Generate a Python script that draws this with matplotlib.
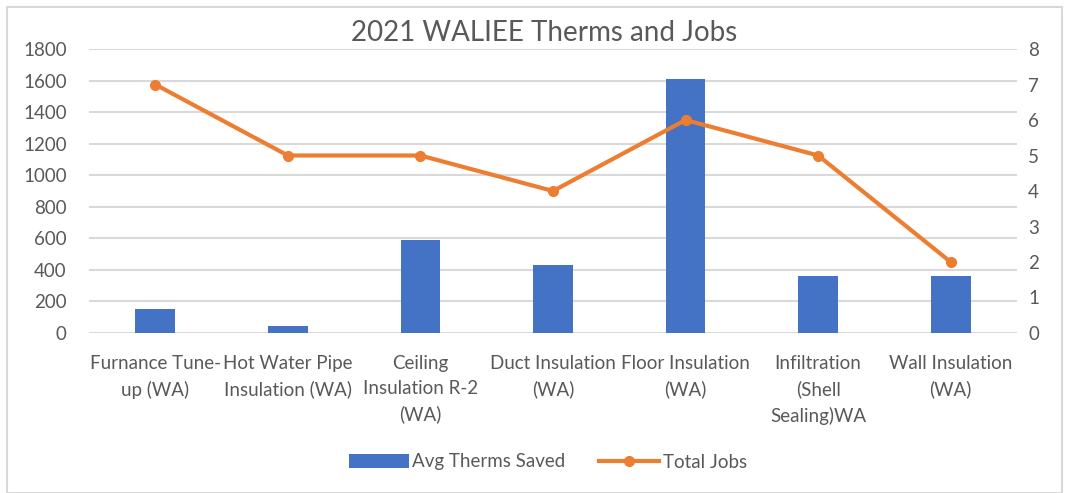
import numpy as np
import matplotlib.pyplot as plt
from matplotlib.patches import Rectangle

categories = ['Furnance Tune-\nup (WA)', 'Hot Water Pipe\nInsulation (WA)',
              'Ceiling\nInsulation R-2\n(WA)', 'Duct Insulation\n(WA)',
              'Floor Insulation\n(WA)', 'Infiltration\n(Shell\nSealing)WA',
              'Wall Insulation\n(WA)']
avg_therms = [150, 45, 592, 432, 1612, 362, 362]
total_jobs = [7, 5, 5, 4, 6, 5, 2]

blue = '#4472C4'
orange = '#ED7D31'
txt = '#595959'
grid = '#D9D9D9'

plt.rcParams['font.family'] = ['Lato', 'DejaVu Sans']

fig = plt.figure(figsize=(10.69, 4.93), dpi=100)
ax = fig.add_axes([89/1069, 1-333/493, (1017-89)/1069, (333-49)/493])
ax2 = ax.twinx()

x = np.arange(len(categories))
b = ax.bar(x, avg_therms, width=0.3, color=blue, zorder=2, label='Avg Therms Saved')
l, = ax2.plot(x, total_jobs, color=orange, lw=3, marker='o', ms=7, zorder=3, label='Total Jobs')

ax.set_xlim(-0.5, 6.5)
ax.set_ylim(0, 1800)
ax.set_yticks(range(0, 1801, 200))
ax2.set_ylim(0, 8)
ax2.set_yticks(range(0, 9))
ax.yaxis.grid(True, color=grid, lw=1.5)
ax.set_axisbelow(True)
ax.set_xticks(x)
ax.set_xticklabels(categories, fontsize=13.5, color=txt, linespacing=1.55, va='top')
for a in (ax, ax2):
    for s in a.spines.values():
        s.set_visible(False)
    a.tick_params(length=0, labelsize=13.5, labelcolor=txt)
ax.tick_params(axis='y', pad=16)
ax2.tick_params(axis='y', pad=8)
ax.tick_params(axis='x', pad=16)

fig.text(544/1069, 1-33/493, '2021 WALIEE Therms and Jobs', ha='center', va='center',
         fontsize=20, color=txt)

fig.legend([b, l], ['Avg Therms Saved', 'Total Jobs'], loc='center',
           bbox_to_anchor=(548/1069, 1-462/493), ncol=2, frameon=False,
           fontsize=13.5, labelcolor=txt, handlelength=3.2, columnspacing=1.8, handletextpad=0.2)

fig.patches.append(Rectangle((7/1069, 0.0), 1 - 14/1069, 1-7/493, transform=fig.transFigure,
                             fill=False, edgecolor='#D9D9D9', lw=1.5))

fig.savefig('out.png', dpi=100)
